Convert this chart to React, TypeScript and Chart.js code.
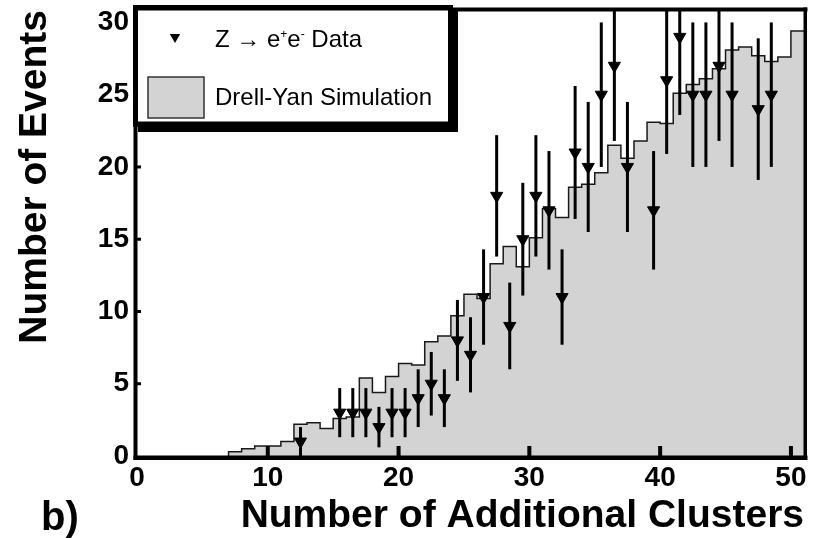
import React, { useEffect, useRef } from 'react';
import { Chart, registerables } from 'chart.js';

Chart.register(...registerables);

const FONT = "'Liberation Sans', Arial, Helvetica, sans-serif";

// Drell-Yan simulation: expected events per unit bin, starting at bin [7, 8)
const simFirstBin = 7;
const simCounts = [
  0.3, 0.5, 0.7, 0.7, 1.0, 2.2, 2.3, 1.9, 2.6, 2.7,
  5.4, 4.4, 5.5, 6.4, 6.3, 7.9, 8.3, 9.7, 11.2, 10.9,
  13.3, 14.5, 13.1, 15.1, 17.1, 16.5, 18.6, 18.8, 19.6, 21.5,
  20.6, 21.8, 23.1, 23.0, 25.1, 25.7, 26.1, 26.8, 28.1, 28.3,
  27.7, 27.3, 27.6, 29.4,
];

// Z -> ee data: bin centres, observed counts and statistical errors
const dataX = [
  12.5, 15.5, 16.5, 17.5, 18.5, 19.5, 20.5, 21.5, 22.5, 23.5,
  24.5, 25.5, 26.5, 27.5, 28.5, 29.5, 30.5, 31.5, 32.5, 33.5,
  34.5, 35.5, 36.5, 37.5, 39.5, 40.5, 41.5, 42.5, 43.5, 44.5,
  45.5, 47.5, 48.5,
];
const dataCounts = [
  1, 3, 3, 3, 2, 3, 3, 4, 5, 4,
  8, 7, 11, 18, 9, 15, 18, 17, 11, 21,
  20, 25, 27, 20, 17, 26, 29, 25, 25, 27,
  25, 24, 25,
];
const dataErrors = [
  1.0, 1.7, 1.7, 1.7, 1.4, 1.7, 1.7, 2.0, 2.2, 2.0,
  2.8, 2.6, 3.3, 4.2, 3.0, 3.9, 4.2, 4.1, 3.3, 4.6,
  4.5, 5.0, 5.2, 4.5, 4.1, 5.1, 5.4, 5.0, 5.0, 5.2,
  5.0, 4.9, 5.0,
];

const xTickValues = [0, 10, 20, 30, 40, 50];
const yTickValues = [0, 5, 10, 15, 20, 25, 30];
const xRange = [0, 51];
const yRange = [0, 30.86];

const xTitle = 'Number of Additional Clusters';
const yTitle = 'Number of Events';
const panelLabel = 'b)';
const dataLabel = ['Z ', '\u2192', ' e', '+', 'e', '-', ' Data'];
const simLabel = 'Drell-Yan Simulation';

const SIM_FILL = '#d3d3d3';

function drawTriangleDown(ctx: CanvasRenderingContext2D, cx: number, cy: number, r: number) {
  const s = Math.sin(Math.PI / 3) * r;
  ctx.beginPath();
  ctx.moveTo(cx, cy + r);
  ctx.lineTo(cx - s, cy - r / 2);
  ctx.lineTo(cx + s, cy - r / 2);
  ctx.closePath();
  ctx.fill();
}

const decorPlugin = {
  id: 'decor',
  beforeDatasetDraw(chart: any, args: any) {
    if (args.index !== 1) return;
    const { ctx, chartArea: a, scales } = chart;
    const x = scales.x;
    const y = scales.y;
    ctx.save();
    ctx.beginPath();
    ctx.rect(a.left, a.top, a.right - a.left, a.bottom - a.top);
    ctx.clip();
    ctx.strokeStyle = '#000';
    ctx.lineWidth = 3;
    dataX.forEach((bx, i) => {
      const px = x.getPixelForValue(bx);
      ctx.beginPath();
      ctx.moveTo(px, y.getPixelForValue(Math.max(0, dataCounts[i] - dataErrors[i])));
      ctx.lineTo(px, y.getPixelForValue(dataCounts[i] + dataErrors[i]));
      ctx.stroke();
    });
    ctx.restore();
  },
  afterDraw(chart: any) {
    const { ctx, chartArea: a, scales } = chart;
    const x = scales.x;
    const y = scales.y;
    ctx.save();
    ctx.fillStyle = '#000';
    ctx.strokeStyle = '#000';

    // plot frame: heavy left/bottom axes, lighter top/right edges
    ctx.fillRect(a.left - 3.5, a.top - 2, 4, a.bottom - a.top + 6);
    ctx.fillRect(a.left - 3.5, a.bottom - 0.5, a.right - a.left + 7, 4.5);
    ctx.fillRect(a.left, a.top - 2.5, a.right - a.left + 3.5, 4);
    ctx.fillRect(a.right - 0.5, a.top - 2.5, 3.5, a.bottom - a.top + 4);

    // inward tick marks
    x.ticks.forEach((t: any) => {
      if (t.value === 0) return;
      const px = x.getPixelForValue(t.value);
      ctx.fillRect(px - 2, a.bottom - 10, 4, 10);
    });
    y.ticks.forEach((t: any) => {
      if (t.value === 0) return;
      const py = y.getPixelForValue(t.value);
      ctx.fillRect(a.left, py - 1.5, 4, 3);
    });

    // legend box with drop shadow
    const L = a.left - 4;
    const T = a.top - 5;
    const W = 320;
    const H = 122;
    ctx.fillRect(L + 5, T + 5, W, H);
    ctx.fillRect(L, T, W, H);
    ctx.fillStyle = '#fff';
    ctx.fillRect(L + 5, T + 5.5, W - 10, H - 11);

    // legend entry: data marker
    ctx.fillStyle = '#000';
    drawTriangleDown(ctx, L + 42, T + 32, 6);
    ctx.textBaseline = 'alphabetic';
    ctx.textAlign = 'left';
    let tx = L + 82;
    const base1 = T + 41.5;
    dataLabel.forEach((part, i) => {
      const sup = i === 3 || i === 5;
      ctx.font = sup ? `12px ${FONT}` : `24px ${FONT}`;
      ctx.fillText(part, tx, sup ? base1 - 9 : base1);
      tx += ctx.measureText(part).width;
    });

    // legend entry: simulation swatch
    ctx.fillStyle = SIM_FILL;
    ctx.fillRect(L + 15, T + 72, 56, 41);
    ctx.lineWidth = 1.5;
    ctx.strokeStyle = '#333';
    ctx.strokeRect(L + 15, T + 72, 56, 41);
    ctx.fillStyle = '#000';
    ctx.font = `24px ${FONT}`;
    ctx.fillText(simLabel, L + 82, T + 100);

    // panel label
    ctx.font = `bold 40px ${FONT}`;
    ctx.fillText(panelLabel, 41, 530);
    ctx.restore();
  },
};

export default function App() {
  const canvasRef = useRef<HTMLCanvasElement | null>(null);

  useEffect(() => {
    const canvas = canvasRef.current;
    if (!canvas) return;

    const histPoints = [
      { x: simFirstBin, y: 0 },
      ...simCounts.map((v, i) => ({ x: simFirstBin + i, y: v })),
      { x: simFirstBin + simCounts.length, y: simCounts[simCounts.length - 1] },
    ];
    const dataPoints = dataX.map((bx, i) => ({ x: bx, y: dataCounts[i] }));

    const tickFont = { family: FONT, size: 28, weight: 'bold' as const };
    const titleFont = { family: FONT, size: 39, weight: 'bold' as const };

    const chart = new Chart(canvas, {
      type: 'line',
      data: {
        datasets: [
          {
            type: 'line',
            label: simLabel,
            data: histPoints,
            stepped: true,
            fill: 'origin',
            backgroundColor: SIM_FILL,
            borderColor: '#1a1a1a',
            borderWidth: 1.5,
            pointRadius: 0,
            order: 2,
          } as any,
          {
            type: 'scatter',
            label: 'Z -> ee Data',
            data: dataPoints,
            showLine: false,
            pointStyle: 'triangle',
            rotation: 180,
            pointRadius: 7,
            backgroundColor: '#000',
            borderColor: '#000',
            borderWidth: 1,
            order: 1,
          } as any,
        ],
      },
      options: {
        responsive: false,
        animation: false,
        devicePixelRatio: 1,
        events: [],
        layout: { padding: { top: 10, right: 13, left: 0, bottom: 0 } },
        plugins: {
          legend: { display: false },
          tooltip: { enabled: false },
        },
        scales: {
          x: {
            type: 'linear',
            min: xRange[0],
            max: xRange[1],
            grid: { display: false, drawTicks: false },
            border: { display: false },
            afterBuildTicks: (s: any) => {
              s.ticks = xTickValues.map((v) => ({ value: v }));
            },
            afterFit: (s: any) => {
              s.height = 82;
              s.paddingLeft = 0;
              s.paddingRight = 0;
            },
            ticks: {
              font: tickFont,
              color: '#000',
              padding: 5,
              autoSkip: false,
              maxRotation: 0,
              callback: (v: any) => String(v),
            },
            title: {
              display: true,
              text: xTitle,
              align: 'end',
              color: '#000',
              font: titleFont,
              padding: { top: 0, bottom: -2 },
            },
          },
          y: {
            type: 'linear',
            min: yRange[0],
            max: yRange[1],
            grid: { display: false, drawTicks: false },
            border: { display: false },
            afterBuildTicks: (s: any) => {
              s.ticks = yTickValues.map((v) => ({ value: v }));
            },
            afterFit: (s: any) => {
              s.width = 137;
              s.paddingTop = 0;
              s.paddingBottom = 0;
            },
            ticks: {
              font: tickFont,
              color: '#000',
              padding: 8,
              autoSkip: false,
              callback: (v: any) => String(v),
            },
            title: {
              display: true,
              text: yTitle,
              align: 'end',
              color: '#000',
              font: titleFont,
              padding: { top: 12, bottom: 0 },
            },
          },
        },
      } as any,
      plugins: [decorPlugin],
    });

    return () => chart.destroy();
  }, []);

  return (
    <div style={{ position: 'absolute', left: 0, top: 0, width: 817, height: 538, background: '#fff' }}>
      <canvas ref={canvasRef} width={817} height={538} style={{ display: 'block', width: 817, height: 538 }} />
    </div>
  );
}
